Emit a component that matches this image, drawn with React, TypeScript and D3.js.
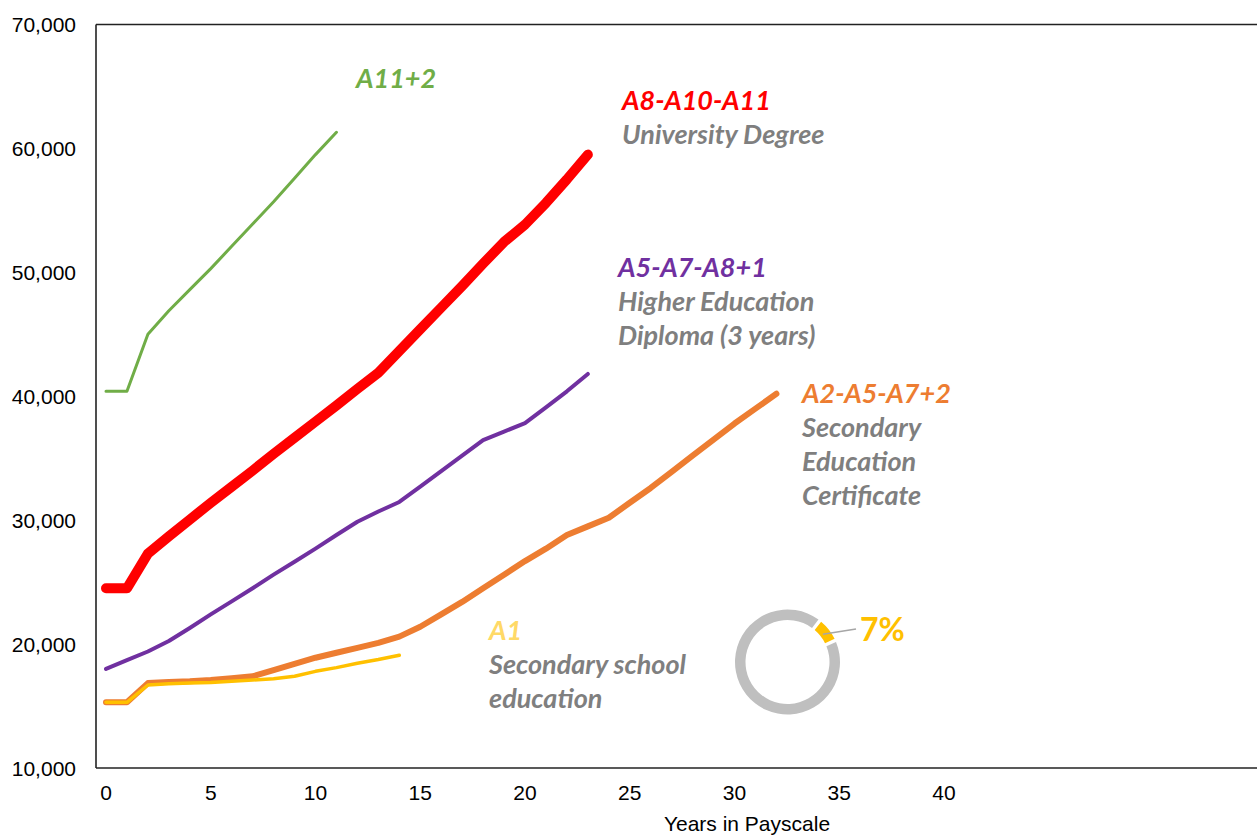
import React from "react";
import * as d3 from "d3";

// Years in payscale and annual salary per career track
const yearsA11 = [0, 1, 2, 3, 4, 5, 6, 7, 8, 9, 10, 11];
const salaryA11 = [40400, 40400, 45000, 46900, 48600, 50300, 52100, 53900, 55700, 57600, 59500, 61300];

const yearsA8 = d3.range(0, 24);
const salaryA8 = [
  24500, 24500, 27300, 28700, 30050, 31400, 32700, 34000, 35350, 36650, 37950, 39250,
  40600, 41900, 43650, 45400, 47150, 48900, 50700, 52450, 53850, 55600, 57500, 59500,
];

const yearsA5 = d3.range(0, 24);
const salaryA5 = [
  18000, 18700, 19400, 20250, 21300, 22400, 23450, 24500, 25600, 26650, 27700, 28800,
  29870, 30700, 31470, 32700, 33950, 35200, 36460, 37150, 37830, 39100, 40400, 41800,
];

const yearsA2 = d3.range(0, 33);
const salaryA2 = [
  15300, 15300, 16850, 16950, 17000, 17100, 17250, 17400, 17900, 18400, 18900, 19300,
  19700, 20100, 20600, 21400, 22400, 23400, 24500, 25600, 26700, 27700, 28800, 29500,
  30200, 31400, 32600, 33900, 35200, 36500, 37800, 39000, 40200,
];

const yearsA1 = d3.range(0, 15);
const salaryA1 = [
  15300, 15300, 16700, 16800, 16850, 16900, 17000, 17100, 17200, 17400, 17800, 18100,
  18450, 18750, 19100,
];

const yTicks = [10000, 20000, 30000, 40000, 50000, 60000, 70000];
const xTicks = [0, 5, 10, 15, 20, 25, 30, 35, 40];
const xTitle = "Years in Payscale";

const donutValues = [7, 93];
const donutLabel = "7%";

type Series = { name: string; years: number[]; values: number[]; color: string; width: number };

const series: Series[] = [
  { name: "A1", years: yearsA1, values: salaryA1, color: "#FFC000", width: 3.5 },
  { name: "A2-A5-A7+2", years: yearsA2, values: salaryA2, color: "#ED7D31", width: 6 },
  { name: "A5-A7-A8+1", years: yearsA5, values: salaryA5, color: "#7030A0", width: 4 },
  { name: "A8-A10-A11", years: yearsA8, values: salaryA8, color: "#FF0000", width: 10 },
  { name: "A11+2", years: yearsA11, values: salaryA11, color: "#70AD47", width: 3 },
];

// Draw order: orange beneath yellow so the yellow A1 line stays visible on top
const drawOrder = ["A2-A5-A7+2", "A1", "A5-A7-A8+1", "A8-A10-A11", "A11+2"];

type Note = { x: number; y: number; title: string; color: string; lines: string[] };
const notes: Note[] = [
  { x: 356, y: 88, title: "A11+2", color: "#70AD47", lines: [] },
  { x: 622, y: 110, title: "A8-A10-A11", color: "#FF0000", lines: ["University Degree"] },
  { x: 618, y: 277, title: "A5-A7-A8+1", color: "#7030A0", lines: ["Higher Education", "Diploma (3 years)"] },
  { x: 802, y: 403, title: "A2-A5-A7+2", color: "#ED7D31", lines: ["Secondary", "Education", "Certificate"] },
  { x: 489, y: 640, title: "A1", color: "#FFD966", lines: ["Secondary school", "education"] },
];

export default function App() {
  const W = 1257;
  const H = 837;
  const axisX = 96;
  const x = d3.scaleLinear().domain([0, 40]).range([106, 944]);
  const y = d3.scaleLinear().domain([10000, 70000]).range([768, 24.5]);

  const line = (s: Series) =>
    d3
      .line<number>()
      .x((_, i) => x(s.years[i]))
      .y((v) => y(v))(s.values) || "";

  const pie = d3
    .pie<number>()
    .sort(null)
    .value((d) => d)
    .startAngle((38 * Math.PI) / 180)
    .endAngle((38 * Math.PI) / 180 + 2 * Math.PI)
    .padAngle(0.05);
  const arcs = pie(donutValues);
  const arc = d3.arc<d3.PieArcDatum<number>>().innerRadius(42).outerRadius(52.5);
  const cx = 787.5;
  const cy = 662;
  const mid = (arcs[0].startAngle + arcs[0].endAngle) / 2;
  const lx = cx + 45 * Math.sin(mid);
  const ly = cy - 45 * Math.cos(mid);

  const noteFont = "Lato, 'Open Sans', sans-serif";
  const axisFont = "'Liberation Sans', Arial, sans-serif";

  return (
    <svg
      width={W}
      height={H}
      style={{ position: "absolute", left: 0, top: 0, background: "#fff" }}
    >
      {/* frame */}
      <line x1={axisX} x2={W} y1={y(70000)} y2={y(70000)} stroke="#222" strokeWidth={1.6} />
      <line x1={axisX} x2={W} y1={y(10000)} y2={y(10000)} stroke="#222" strokeWidth={1.6} />
      <line x1={axisX} x2={axisX} y1={y(70000)} y2={y(10000)} stroke="#222" strokeWidth={1.6} />

      {/* y tick labels */}
      {yTicks.map((t) => (
        <text
          key={t}
          x={76}
          y={y(t)}
          dy="0.36em"
          textAnchor="end"
          fontFamily={axisFont}
          fontSize={21}
          fill="#000"
        >
          {d3.format(",")(t)}
        </text>
      ))}

      {/* x tick labels */}
      {xTicks.map((t) => (
        <text
          key={t}
          x={x(t)}
          y={800}
          textAnchor="middle"
          fontFamily={axisFont}
          fontSize={21}
          fill="#000"
        >
          {t}
        </text>
      ))}
      <text x={747} y={831} textAnchor="middle" fontFamily={axisFont} fontSize={21} fill="#000">
        {xTitle}
      </text>

      {/* salary lines */}
      {drawOrder.map((n) => {
        const s = series.find((d) => d.name === n)!;
        return (
          <path
            key={n}
            d={line(s)}
            fill="none"
            stroke={s.color}
            strokeWidth={s.width}
            strokeLinecap="round"
            strokeLinejoin="round"
          />
        );
      })}

      {/* track annotations */}
      {notes.map((nt) => (
        <text
          key={nt.title}
          x={nt.x}
          y={nt.y}
          fontFamily={noteFont}
          fontStyle="italic"
          fontWeight={700}
          fontSize={27}
        >
          <tspan fill={nt.color}>{nt.title}</tspan>
          {nt.lines.map((l, i) => (
            <tspan key={i} x={nt.x} y={nt.y + 34 * (i + 1)} fill="#7F7F7F">
              {l}
            </tspan>
          ))}
        </text>
      ))}

      {/* donut */}
      <g transform={`translate(${cx},${cy})`}>
        {arcs.map((a, i) => (
          <path key={i} d={arc(a) || ""} fill={i === 0 ? "#FFC000" : "#BFBFBF"} />
        ))}
      </g>
      <line x1={lx} y1={ly} x2={856} y2={629} stroke="#A6A6A6" strokeWidth={1.5} />
      <text x={860} y={641} fontFamily={noteFont} fontWeight={700} fontSize={32} fill="#FFC000">
        {donutLabel}
      </text>
    </svg>
  );
}
